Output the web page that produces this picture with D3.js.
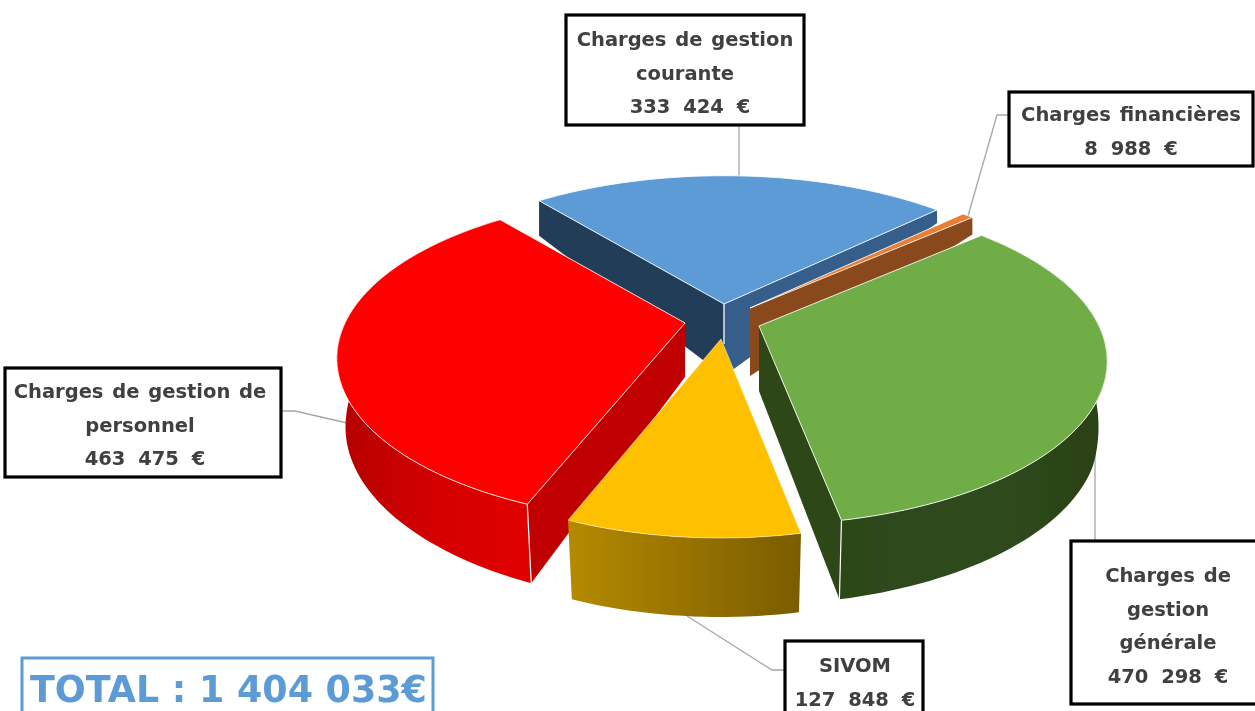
<!DOCTYPE html>
<html><head><meta charset="utf-8">
<script src="https://cdn.jsdelivr.net/npm/d3@7"></script>
<style>html,body{margin:0;padding:0;background:#fff;overflow:hidden}svg{display:block}</style>
</head><body><svg id="c" width="1255" height="711"></svg>
<script>
// data
const categories = ["Charges de gestion courante","Charges financières","Charges de gestion générale","SIVOM","Charges de gestion de personnel"];
const values = [333424, 8988, 470298, 127848, 463475];
const labelLines = [["Charges de gestion","courante"],["Charges financières"],["Charges de","gestion","générale"],["SIVOM"],["Charges de gestion de","personnel"]];
const totalPrefix = "TOTAL : ";

// layout (not data)
const apexes=[[724,304],[750,308],[759,326],[721,339],[685,323]];
const apexDepth=[72,68,65,60,54];
const startDeg=320.6;
const widthFactor=[1,1,1,0.97,1];
const shrinkFactor=[1,1,0.975,0.975,0.975];
const depthFractions=[[0,1],[0,1],[0,0.53,1],[0,1],[0,0.5,1]];
const depthValues=[[35,13],[17,17],[15,75,79],[79,79],[79,68,30]];
const topFill=["#5b9bd5","#ed7d31","#70ad47","#ffc000","#ff0000"];
const startWall=["#243e58",null,null,null,"#c00000"];
const endWall=["#355f8a","#8a4a1b","#2d4719",null,null];
const wallStops=[null,null,["#2c4619","#2f4b1c","#2a4117"],["#b58a00","#7a5c00"],["#b40000","#d40000","#e00000"]];
const boxes=[[566,15,238,110],[1009,92,244,74],[1071,541,200,163],[785,641,138,90],[5,368,276,109]];
const textPos=[[685,46],[1131,121],[1168,582],[855,672],[140,398]];
const leaders=[[[739,125],[739,176]],[[1009,115],[997,115],[968,216]],[[1095,450],[1095,541]],[[687,616],[772,670],[785,670]],[[281,411],[295,411],[347,423]]];
const totalBox=[22,658,411,80];

const svg=d3.select("#c");
const defs=svg.append("defs");
defs.append("filter").attr("id","soft").append("feGaussianBlur").attr("stdDeviation",0.55);
wallStops.forEach((s,i)=>{ if(!s) return;
  const g=defs.append("linearGradient").attr("id","w"+i);
  s.forEach((c,j)=>g.append("stop").attr("offset",j/(s.length-1)).attr("stop-color",c));
});

const rad=d3.scaleLinear().domain([0,360]).range([0,2*Math.PI]);
const pie=d3.pie().sort(null).value(d=>d).startAngle(rad(startDeg)).endAngle(rad(startDeg+360));
const arcs=pie(values);

// perspective projection of the unit disc
const persp=0.216;
const sx=d3.scaleLinear().domain([-1,1]).range([-340,340]);
const sy=d3.scaleLinear().domain([-1,1]).range([-156,156]);
function proj(a,xf){const x=Math.sin(a),y=-Math.cos(a),w=1-persp*y;return [sx(x)*xf/w,sy(y)/w];}
function samples(a0,a1){const n=Math.max(2,Math.ceil((a1-a0)/rad(1.5)));return d3.range(n+1).map(i=>a0+(a1-a0)*i/n);}
const line=d3.line();

const chart=svg.append("g").attr("filter","url(#soft)");
const order=[0,1,4,2,3];

// leader lines behind the pie
const lg=svg.insert("g",":first-child");
leaders.forEach(l=>lg.append("path").attr("d",line(l)).attr("fill","none").attr("stroke","#a6a6a6").attr("stroke-width",1.3));

order.forEach(i=>{
  const d=arcs[i],[ax,ay]=apexes[i],xf=widthFactor[i],shrink=shrinkFactor[i];
  const depth=d3.scaleLinear().domain(depthFractions[i].map(f=>d.startAngle+f*(d.endAngle-d.startAngle))).range(depthValues[i]);
  const top=a=>{const p=proj(a,xf);return [ax+p[0],ay+p[1]];};
  const bot=a=>{const p=proj(a,xf);return [ax+p[0]*shrink,ay+p[1]+depth(a)];};
  const T=[ax,ay],B=[ax,ay+apexDepth[i]];
  const as=samples(d.startAngle,d.endAngle);
  const g=chart.append("g");
  if(wallStops[i]){
    const pts=as.map(top).concat(as.slice().reverse().map(bot));
    g.append("path").attr("d",line(pts)+"Z").attr("fill",`url(#w${i})`).attr("stroke","none");
  }
  if(startWall[i]) g.append("path").attr("d",line([T,top(d.startAngle),bot(d.startAngle),B])+"Z").attr("fill",startWall[i]);
  if(endWall[i]) g.append("path").attr("d",line([T,top(d.endAngle),bot(d.endAngle),B])+"Z").attr("fill",endWall[i]);
  // corner edges
  if(wallStops[i]&&i!==3){
    const a=i===2?d.endAngle:d.startAngle;
    g.append("path").attr("d",line([top(a),bot(a)])).attr("stroke","#fff").attr("stroke-width",1.2).attr("fill","none");
  }
  if(i===0) g.append("path").attr("d",line([T,[ax,ay+40]])).attr("stroke","#d8dee4").attr("stroke-width",1.6).attr("fill","none");
  // top face
  g.append("path").attr("d",line([T].concat(as.map(top)))+"Z").attr("fill",topFill[i]).attr("stroke","#fff").attr("stroke-width",i===3?0.6:1).attr("stroke-opacity",0.85).attr("stroke-linejoin","round");
});

// labels
const fmtLocale=d3.formatLocale({decimal:",",thousands:" ",grouping:[3],currency:["","€"]});
const fmt=fmtLocale.format(",d");
const font='"DejaVu Sans",sans-serif';
const lab=svg.append("g").attr("filter","url(#soft)");
boxes.forEach((b,i)=>{
  lab.append("rect").attr("x",b[0]).attr("y",b[1]).attr("width",b[2]).attr("height",b[3]).attr("fill","#fff").attr("stroke","#000").attr("stroke-width",3.2);
  const lines=labelLines[i].concat([fmt(values[i])+" €"]);
  lines.forEach((t,j)=>{
    const isValue=j===lines.length-1;
    lab.append("text").attr("x",textPos[i][0]+(isValue&&lines.length>2&&i!==2?5:0)).attr("y",textPos[i][1]+j*33.7)
    .attr("text-anchor","middle").attr("font-family",font).attr("font-weight",700).attr("font-size",19.5).attr("word-spacing",isValue?6:2).attr("fill","#404040").text(t);
  });
});
lab.append("rect").attr("x",totalBox[0]).attr("y",totalBox[1]).attr("width",totalBox[2]).attr("height",totalBox[3]).attr("fill","#fff").attr("stroke","#5b9bd5").attr("stroke-width",3);
lab.append("text").attr("x",30).attr("y",702).attr("font-family",font).attr("font-weight",700).attr("font-size",36.4).attr("fill","#5b9bd5")
  .text(totalPrefix+fmt(d3.sum(values))+"€");
</script></body></html>
